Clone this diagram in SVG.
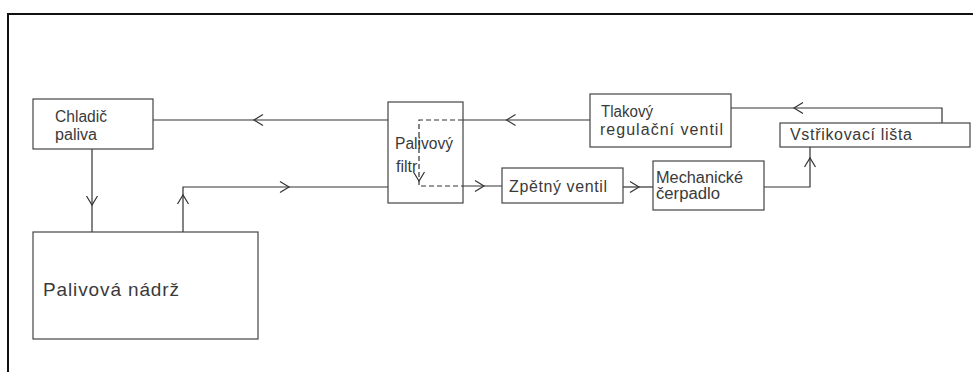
<svg xmlns="http://www.w3.org/2000/svg" width="973" height="372" viewBox="0 0 973 372">
<defs>
<style>
.frame{fill:none;stroke:#111;stroke-width:2}
.box{fill:none;stroke:#444;stroke-width:1.2}
.ln{fill:none;stroke:#333;stroke-width:1.2}
.dash{fill:none;stroke:#333;stroke-width:1.2;stroke-dasharray:5,3}
.ah{fill:none;stroke:#333;stroke-width:1.2}
text{font-family:"Liberation Sans",Arial,sans-serif;font-size:16px;fill:#3a3a3a}
.big{font-size:19px}
</style>
</defs>
<rect width="973" height="372" fill="#fff"/>
<path class="frame" d="M8,372 V14 H973"/>

<g id="connectors">
  <path class="ln" d="M92,149 V232"/>
  <path class="ah" d="M86.5,196 L92,205 L97.5,196"/>
  <path class="ln" d="M183,232 V187 H388"/>
  <path class="ah" d="M177.5,204 L183,195 L188.5,204"/>
  <path class="ah" d="M280,181.5 L289,187 L280,192.5"/>
  <path class="ln" d="M153,120 H388"/>
  <path class="ah" d="M263,114.5 L254,120 L263,125.5"/>
  <path class="ln" d="M463,120 H590"/>
  <path class="ah" d="M515.5,114.5 L506.5,120 L515.5,125.5"/>
  <path class="dash" d="M463,120 H419 V186 H463"/>
  <path class="ah" d="M413.5,172 L419,181 L424.5,172"/>
  <path class="ln" d="M463,186 H502"/>
  <path class="ah" d="M475,180.5 L484,186 L475,191.5"/>
  <path class="ln" d="M623,187 H653"/>
  <path class="ah" d="M630,181.5 L639,187 L630,192.5"/>
  <path class="ln" d="M764,187 H810 V147"/>
  <path class="ah" d="M804.5,167 L810,158 L815.5,167"/>
  <path class="ln" d="M942,123 V108 H731"/>
  <path class="ah" d="M803,102.5 L794,108 L803,113.5"/>
</g>

<g id="chladic">
  <rect class="box" x="33" y="99" width="120" height="50"/>
  <text x="55" y="122" textLength="52" lengthAdjust="spacingAndGlyphs">Chladič</text>
  <text x="55" y="140" textLength="42" lengthAdjust="spacingAndGlyphs">paliva</text>
</g>

<g id="nadrz">
  <rect class="box" x="33" y="232" width="225" height="107"/>
  <text class="big" x="43" y="296" textLength="136">Palivová nádrž</text>
</g>

<g id="filtr">
  <rect class="box" x="388" y="102" width="75" height="101"/>
  <text x="395" y="149" textLength="58" lengthAdjust="spacingAndGlyphs">Palivový</text>
  <text x="396" y="172">filtr</text>
</g>

<g id="tlakovy">
  <rect class="box" x="590" y="94" width="141" height="53"/>
  <text x="601" y="117" textLength="52" lengthAdjust="spacingAndGlyphs">Tlakový</text>
  <text x="600" y="135" textLength="123">regulační ventil</text>
</g>

<g id="zpetny">
  <rect class="box" x="502" y="168" width="121" height="35"/>
  <text x="509" y="192" textLength="98">Zpětný ventil</text>
</g>

<g id="mechanicke">
  <rect class="box" x="653" y="161" width="111" height="49"/>
  <text x="656" y="183" textLength="87" lengthAdjust="spacingAndGlyphs">Mechanické</text>
  <text x="656" y="199" textLength="64" lengthAdjust="spacingAndGlyphs">čerpadlo</text>
</g>

<g id="vstrikovaci">
  <rect class="box" x="780" y="123" width="190" height="24"/>
  <text x="790" y="140" textLength="122">Vstřikovací lišta</text>
</g>
</svg>
